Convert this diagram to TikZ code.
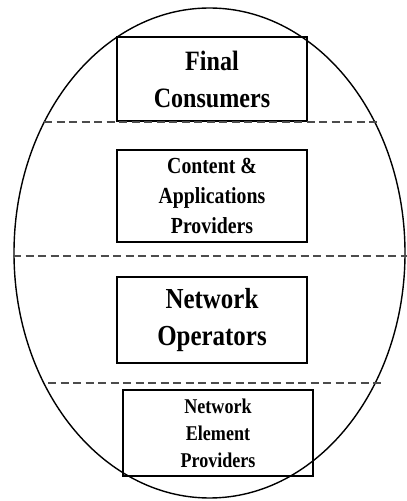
\documentclass[tikz,border=0pt]{standalone}
\usepackage{fontspec}
\setmainfont{Liberation Serif}[FakeStretch=0.86]
\usepackage{tikz}

\begin{document}
\begin{tikzpicture}[x=1pt, y=1pt,
    layerbox/.style={draw, line width=1.5pt, align=center, inner sep=0pt, minimum width=190pt},
    divider/.style={line width=2.6pt, black!70, dash pattern=on 8pt off 4.5pt}]
    \useasboundingbox (0,0) rectangle (407,501);
    % outer ellipse
    \draw[line width=1.4pt] (209.5,248) ellipse [x radius=195.5, y radius=245];

    % layers
    \node[layerbox, minimum height=84pt, font=\bfseries\fontsize{28}{37}\selectfont]
        (consumers) at (212,422) {Final\\Consumers};
    \node[layerbox, minimum height=92pt, font=\bfseries\fontsize{23}{30}\selectfont]
        (content) at (212,305) {Content \&\\Applications\\Providers};
    \node[layerbox, minimum height=86pt, font=\bfseries\fontsize{29}{37}\selectfont]
        (operators) at (212,181) {Network\\Operators};
    \node[layerbox, minimum height=86pt, font=\bfseries\fontsize{21}{27}\selectfont]
        (elements) at (218,68) {Network\\Element\\Providers};

    % dashed separators
    \draw[divider] (44,379) -- (378,379);
    \draw[divider] (13,245) -- (407,245);
    \draw[divider] (48,118) -- (383,118);
\end{tikzpicture}
\end{document}
